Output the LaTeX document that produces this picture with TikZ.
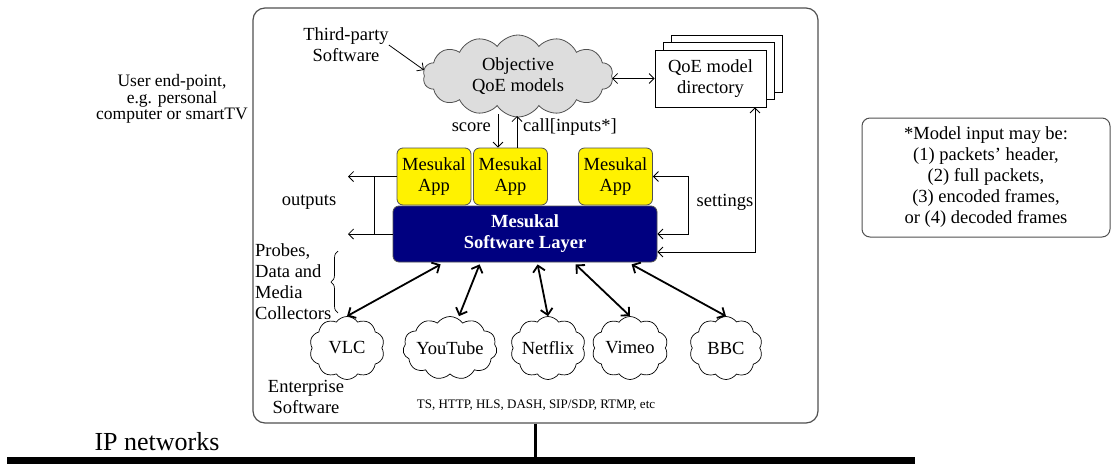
\documentclass[tikz,border=0pt]{standalone}
\usepackage{fontspec}
\setmainfont{Liberation Serif}
\usetikzlibrary{shapes.symbols,decorations.pathreplacing,calc,arrows.meta}
\definecolor{appyellow}{RGB}{255,242,0}
\definecolor{layerblue}{RGB}{0,0,128}
\definecolor{boxgray}{RGB}{80,80,80}
\definecolor{cloudgray}{RGB}{221,221,221}
\begin{document}
\begin{tikzpicture}[x=1pt,y=-1pt,
  base/.style={font=\fontsize{18.5}{21}\selectfont},
  lbl/.style={base, align=center, inner sep=0pt},
  appbox/.style={base, draw=boxgray, fill=appyellow, rounded corners=6pt, minimum width=74pt, minimum height=57pt, align=center, inner sep=0pt, line width=0.8pt},
  layerbox/.style={draw=boxgray, fill=layerblue, rounded corners=6pt, minimum width=264pt, minimum height=56pt, align=center, text=white, font=\fontsize{18.5}{21}\selectfont\bfseries, line width=0.8pt},
  srccloud/.style={base, cloud, cloud ignores aspect, draw=black, fill=white, cloud puffs=10, cloud puff arc=110, minimum height=63pt, inner sep=0pt, line width=0.7pt},
  doc/.style={draw=black, fill=white, minimum width=111pt, minimum height=57pt, line width=0.8pt},
  conn/.style={line width=0.8pt, -{Straight Barb[length=5pt,width=10pt]}},
  dconn/.style={line width=0.8pt, {Straight Barb[length=5pt,width=10pt]}-{Straight Barb[length=5pt,width=10pt]}},
  bigarrow/.style={line width=1.8pt, {Straight Barb[length=6pt,width=12pt]}-{Straight Barb[length=6pt,width=12pt]}},
]
\useasboundingbox (0,0) rectangle (1112,464);

% outer frame
\node[draw=boxgray, line width=1.2pt, rounded corners=12pt, minimum width=565pt, minimum height=415pt, inner sep=0pt] (frame) at (535.5,215.5) {};

% IP network bar
\node[fill=black, minimum width=908pt, minimum height=7pt, inner sep=0pt, anchor=north west] (ipbar) at (7,457) {};
\draw[line width=2.8pt] (frame.south) -- (frame.south |- ipbar.north);
\node[font=\fontsize{26}{28}\selectfont, inner sep=0pt] (ip) at (157,442) {IP networks};

% user end-point label
\node[lbl, font=\fontsize{17.5}{16.5}\selectfont] (user) at (172,99) {User end-point,\\e.g. personal\\computer or smartTV};

% note box
\node[lbl, draw=boxgray, rounded corners=8pt, line width=1pt, minimum width=248pt, minimum height=119pt] (note) at (986,177.5) {*Model input may be:\\(1) packets' header,\\(2) full packets,\\(3) encoded frames,\\or (4) decoded frames};

% QoE cloud
\node[lbl, cloud, cloud ignores aspect, draw=boxgray, fill=cloudgray, cloud puffs=14, cloud puff arc=115, minimum width=190pt, minimum height=82pt, line width=0.8pt] (qoe) at (518,76) {Objective\\QoE models};
\node[lbl] (third) at (346,45) {Third-party\\Software};
\draw[conn] (third.east) -- ([yshift=6pt]qoe.west);

% directory (stacked)
\node[doc] (dir3) at (726.5,63.5) {};
\node[doc] (dir2) at (718.5,71) {};
\node[doc, base, align=center] (dir) at (710.5,78.5) {QoE model\\directory};
\draw[dconn] (qoe.east |- dir.west) -- (dir.west);

% apps and layer
\node[appbox] (app1) at (434,176.5) {Mesukal\\App};
\node[appbox] (app2) at (510.5,176.5) {Mesukal\\App};
\node[appbox] (app3) at (615.5,176.5) {Mesukal\\App};
\node[layerbox] (layer) at (525,234) {Mesukal\\Software Layer};

% score / call
\coordinate (sc) at (498,114);
\coordinate (cl) at (517,116);
\draw[conn] (sc) -- (sc |- app2.north);
\draw[conn] (cl |- app2.north) -- (cl);
\node[lbl, anchor=east] (score) at (491,127) {score};
\node[lbl, anchor=west] (call) at (523,127) {call[inputs*]};

% outputs
\coordinate (ot) at (348,0);
\coordinate (ov) at (374,0);
\draw[conn] (app1.west) -- (ot |- app1.west);
\draw[conn] (layer.west) -- (ot |- layer.west);
\draw[line width=0.8pt] (ov |- app1.west) -- (ov |- layer.west);
\node[lbl] (outputs) at (309,202) {outputs};

% settings
\coordinate (sv) at (688,0);
\draw[dconn] (app3.east) -- (sv |- app3.east) -- (sv |- layer.east) -- (layer.east);
\node[lbl] (settings) at (725,202) {settings};

% directory link
\coordinate (dv) at (755,0);
\draw[dconn] (dv |- dir.south) |- ([yshift=-18pt]layer.east);

% source clouds
\node[srccloud, minimum width=75pt] (vlc) at (347,348) {VLC};
\node[srccloud, minimum width=92pt, cloud puffs=11] (yt) at (450,348) {YouTube};
\node[srccloud, minimum width=75pt] (nf) at (548,348) {Netflix};
\node[srccloud, minimum width=76pt] (vm) at (630,348) {Vimeo};
\node[srccloud, minimum width=73pt] (bbc) at (726,348) {BBC};

\draw[bigarrow] ($(layer.south west)+(48,2)$) -- (vlc.north);
\draw[bigarrow] ($(layer.south west)+(87,2)$) -- ([xshift=9pt]yt.north);
\draw[bigarrow] ($(layer.south west)+(145,2)$) -- (nf.north);
\draw[bigarrow] ($(layer.south west)+(183,2)$) -- (vm.north);
\draw[bigarrow] ($(layer.south west)+(239,2)$) -- (bbc.north);

% probes label and brace
\node[lbl, align=left, anchor=west] (probes) at (255,281.5) {Probes,\\Data and\\Media\\Collectors};
\draw[decorate, decoration={brace, amplitude=7pt}, line width=0.7pt] (338,313) -- (338,251);

\node[lbl] (ent) at (306,397) {Enterprise\\Software};
\node[font=\fontsize{13}{15}\selectfont, inner sep=0pt] (proto) at (536,405) {TS, HTTP, HLS, DASH, SIP/SDP, RTMP, etc};
\end{tikzpicture}
\end{document}
